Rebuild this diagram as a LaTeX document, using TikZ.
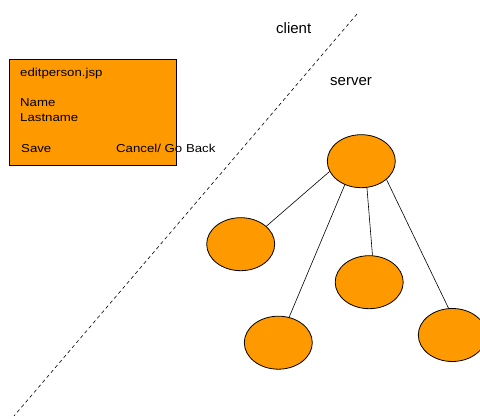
\documentclass[tikz,border=0pt]{standalone}
\usepackage{fontspec}
\setmainfont{Liberation Sans}
\usepackage{xcolor}
\usetikzlibrary{shapes.geometric}
\definecolor{boxorange}{HTML}{FF9900}
\newcommand{\wide}[1]{\scalebox{1.15}[1]{#1}}

\begin{document}
\begin{tikzpicture}[x=1pt, y=-1pt]
			\tikzstyle{every node}=[font=\fontsize{11.5}{13}\selectfont];
			\tikzstyle{txt}=[anchor=base west, inner sep=0pt];
			\tikzstyle{side}=[anchor=base west, inner sep=0pt, font=\fontsize{15}{17}\selectfont];
			\tikzstyle{obj}=[ellipse, draw=black, line width=0.8pt, fill=boxorange, minimum width=68pt, minimum height=53pt, inner sep=0pt];
			\tikzstyle{link}=[black, line width=0.6pt];
			\useasboundingbox (0, 0) rectangle (480, 419);
			
			%Client/server divide
			\coordinate (divtop) at (357, 14);
			\coordinate (divbot) at (14, 416);
			\draw[black, line width=0.6pt, dash pattern=on 3.5pt off 3pt] (divtop) -- (divbot);
			\node[side] (client) at (276, 34) {client};
			\node[side] (server) at (330, 86) {server};
			
			%Page
			\draw[black, line width=0.8pt, fill=boxorange] (9, 59) rectangle (176, 165.5);
			\node[txt] (page) at (20, 77) {\wide{editperson.jsp}};
			\node[txt] (name) at (20, 106.5) {\wide{Name}};
			\node[txt] (lastname) at (20, 121.5) {\wide{Lastname}};
			\node[txt] (save) at (21, 152.5) {\wide{Save}};
			\node[txt] (cancel) at (116, 152.5) {\wide{Cancel/ Go Back}};
			
			%Objects
			\node[obj] (root) at (361.3, 161.2) {};
			\node[obj] (left) at (240.7, 244.2) {};
			\node[obj] (mid) at (369.2, 282.2) {};
			\node[obj] (low) at (278.3, 342.7) {};
			\node[obj] (right) at (452.3, 335) {};
			\draw[link] (root.198.7) -- (left.35.4);
			\draw[link] (root.235.6) -- (low.67);
			\draw[link] (root.282.8) -- (mid.83.3);
			\draw[link] (root.324.2) -- (right.98.7);
\end{tikzpicture}
\end{document}
